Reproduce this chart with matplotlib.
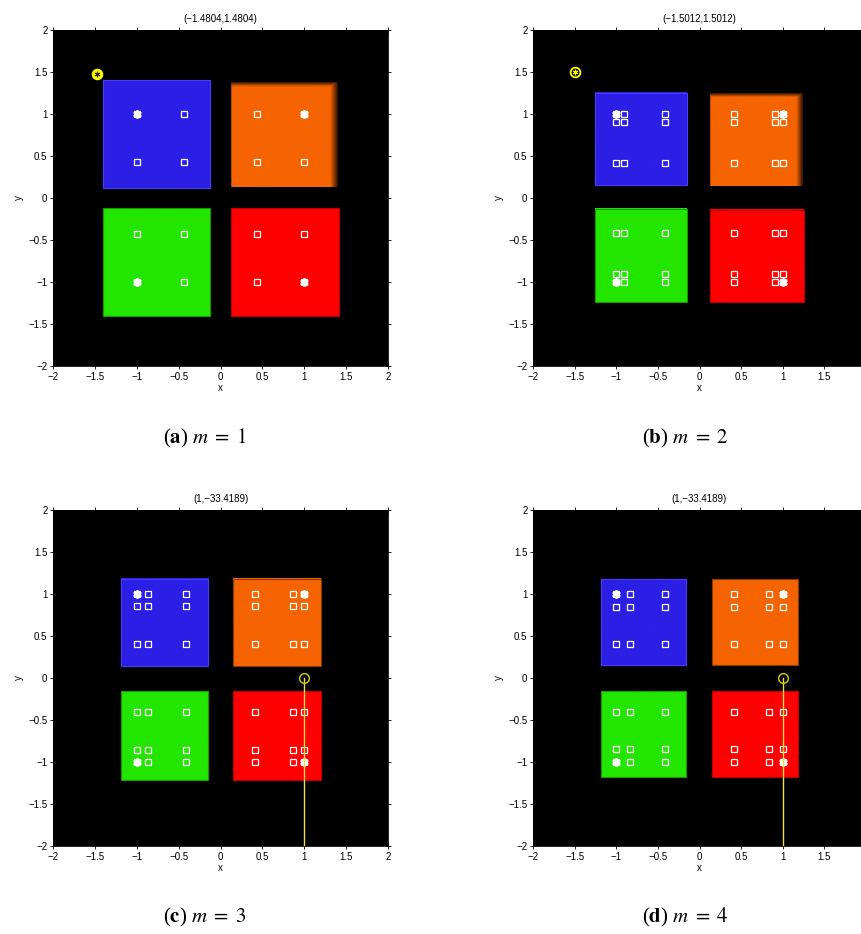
import numpy as np
import matplotlib
matplotlib.use('Agg')
import matplotlib.pyplot as plt

plt.rcParams['font.family'] = ['Liberation Sans', 'DejaVu Sans']
plt.rcParams['mathtext.fontset'] = 'stix'

# panel titles and captions
titles = ['(\u22121.4804,1.4804)', '(\u22121.5012,1.5012)', '(1,\u221233.4189)', '(1,\u221233.4189)']
captions = [r'($\mathbf{a}$) $m\;=\;1$', r'($\mathbf{b}$) $m\;=\;2$',
            r'($\mathbf{c}$) $m\;=\;3$', r'($\mathbf{d}$) $m\;=\;4$']

# box extents per panel, order: blue, orange, green, red
box_x0 = [[-1.40, 0.13, -1.40, 0.13], [-1.25, 0.13, -1.25, 0.13],
          [-1.19, 0.15, -1.19, 0.15], [-1.18, 0.15, -1.18, 0.15]]
box_x1 = [[-0.12, 1.40, -0.12, 1.41], [-0.15, 1.24, -0.15, 1.25],
          [-0.15, 1.20, -0.15, 1.20], [-0.16, 1.18, -0.16, 1.18]]
box_y0 = [[0.12, 0.13, -1.40, -1.40], [0.15, 0.14, -1.24, -1.24],
          [0.14, 0.14, -1.21, -1.21], [0.16, 0.16, -1.18, -1.18]]
box_y1 = [[1.40, 1.38, -0.12, -0.12], [1.25, 1.24, -0.13, -0.14],
          [1.18, 1.18, -0.16, -0.16], [1.18, 1.18, -0.16, -0.16]]
box_colors = ['#2c1fe6', '#f56400', '#22e600', '#ff0000']
edge_colors = ['#4a3cff', '#8a3a00', '#159a00', '#c00000']

# marker grids (open squares) per panel
grid_vals = [[-1.0, -0.43, 0.43, 1.0],
             [-1.0, -0.91, -0.42, 0.42, 0.91, 1.0],
             [-1.0, -0.86, -0.41, 0.41, 0.86, 1.0],
             [-1.0, -0.84, -0.41, 0.41, 0.84, 1.0]]
star_x = [-1.0, 1.0, -1.0, 1.0]
star_y = [1.0, 1.0, -1.0, -1.0]

# yellow point per panel
pt_x = [-1.4804, -1.5012, 1.0, 1.0]
pt_y = [1.4804, 1.5012, 0.0, 0.0]
trail_end = [None, None, -33.4189, -33.4189]

ticks = [-2, -1.5, -1, -0.5, 0, 0.5, 1, 1.5, 2]

fig = plt.figure(figsize=(8.61, 9.34), dpi=100)
W, H = 861.0, 934.0
ax_left = [53, 533, 53, 533]
ax_top = [30, 30, 510, 510]
ax_w = [335, 333, 335, 333]
ax_h = 336


def shaded_box(ax, x0, x1, y0, y1, color, shade):
    rgb = np.array(matplotlib.colors.to_rgb(color))
    n = 120
    img = np.ones((n, n, 3)) * rgb
    if shade:
        yy, xx = np.mgrid[0:n, 0:n]
        ft = np.clip(0.25 + yy / 6.0, 0.25, 1.0)
        fr = np.clip(0.2 + (n - 1 - xx) / 10.0, 0.2, 1.0)
        fl = np.clip(0.7 + xx / 3.0, 0.7, 1.0)
        img = img * np.minimum(np.minimum(ft, fr), fl)[..., None]
    ax.imshow(img, extent=(x0, x1, y0, y1), origin='upper', aspect='auto',
              interpolation='bilinear', zorder=1)


for i in range(4):
    rect = [ax_left[i] / W, (H - ax_top[i] - ax_h) / H, ax_w[i] / W, ax_h / H]
    ax = fig.add_axes(rect)
    ax.set_facecolor('black')
    ax.set_xlim(-2, 2)
    ax.set_ylim(-2, 2)

    for k in range(4):
        shaded_box(ax, box_x0[i][k], box_x1[i][k], box_y0[i][k], box_y1[i][k],
                   box_colors[k], shade=(k == 1 and i < 2))
        if not (k == 1 and i < 2):
            ax.add_patch(plt.Rectangle((box_x0[i][k], box_y0[i][k]),
                                       box_x1[i][k] - box_x0[i][k],
                                       box_y1[i][k] - box_y0[i][k],
                                       fill=False, edgecolor=edge_colors[k],
                                       lw=0.8, zorder=2))

    gx, gy = np.meshgrid(grid_vals[i], grid_vals[i])
    ax.plot(gx.ravel(), gy.ravel(), 's', ms=4, mfc='none', mec='white',
            mew=0.9, ls='none', zorder=3)
    ax.plot(star_x, star_y, marker=(6, 2, 0), ms=6, mec='white', mew=1.3,
            ls='none', zorder=4)

    if trail_end[i] is None:
        ax.plot(pt_x[i], pt_y[i], 'o', ms=7, mfc='#ffff00' if i == 0 else 'none',
                mec='#ffff00', mew=1.3, zorder=5)
        ax.plot(pt_x[i], pt_y[i], marker=(6, 2, 0), ms=4,
                mec='#ffff00' if i == 1 else '#303000', mew=0.8, zorder=6)
    else:
        ax.plot([pt_x[i], pt_x[i]], [pt_y[i], trail_end[i]], color='#f2dc4a',
                lw=1.0, zorder=5)
        ax.plot(pt_x[i], pt_y[i], 'o', ms=7, mfc='none', mec='#c8c000',
                mew=1.1, zorder=6)

    labels = [f'{t:g}'.replace('-', '\u2212') for t in ticks]
    ax.set_xticks(ticks)
    ax.set_yticks(ticks)
    # right-hand panels run past the page edge, their last label is cut away
    ax.set_xticklabels(labels if i % 2 == 0 else labels[:-1] + [''])
    ax.set_yticklabels(labels)
    ax.tick_params(direction='inout', length=4, width=0.6, labelsize=7,
                   top=True, right=True, pad=2)
    ax.set_xlabel('x', fontsize=7, labelpad=1)
    ax.set_ylabel('y', fontsize=7, labelpad=3)
    ax.set_title(titles[i], fontsize=7, pad=6)
    for s in ax.spines.values():
        s.set_linewidth(0.6)

    cx = (ax_left[i] + 152) / W
    cy = (H - (438 if i < 2 else 917)) / H
    fig.text(cx, cy, captions[i], fontsize=15, ha='center', va='center',
             family=['Liberation Serif', 'DejaVu Serif'])

fig.savefig('out.png', dpi=100)
